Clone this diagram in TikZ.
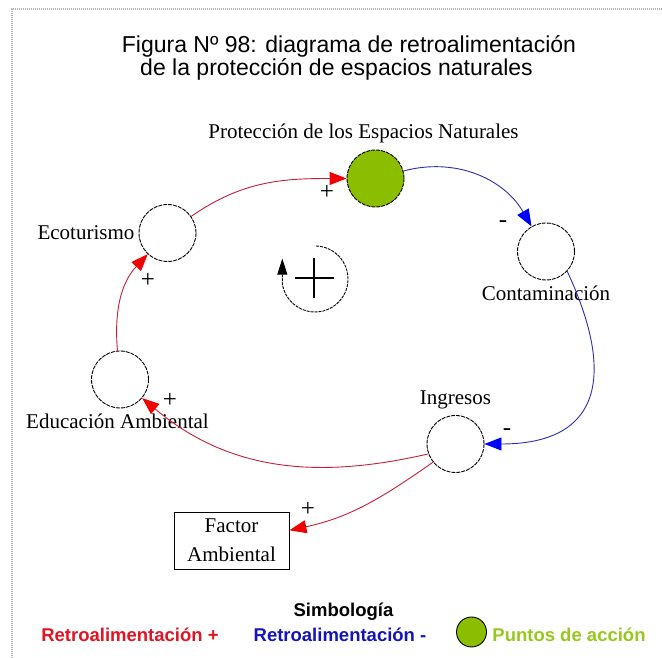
\documentclass[tikz,border=0pt]{standalone}
\usepackage{fontspec}
\setmainfont{Liberation Serif}
\newfontfamily\arialfont{Liberation Sans}
\usepackage{tikz}
\usetikzlibrary{arrows.meta,positioning}

\definecolor{lazo}{RGB}{200,30,55}
\definecolor{punta}{RGB}{240,0,0}
\definecolor{lazoazul}{RGB}{45,45,175}
\definecolor{puntaazul}{RGB}{0,0,250}
\definecolor{verdeacc}{RGB}{140,190,0}
\definecolor{textoverde}{RGB}{150,200,30}
\definecolor{textorojo}{RGB}{225,20,35}
\definecolor{textoazul}{RGB}{20,20,185}

\begin{document}
\begin{tikzpicture}[
  x=1pt, y=1pt,
  nodovar/.style={circle, draw, line width=0.9pt, dash pattern=on 4pt off 1pt,
              minimum size=57pt, inner sep=0pt},
  accion/.style={nodovar, fill=verdeacc},
  caja/.style={rectangle, draw, line width=0.9pt, minimum width=115pt, minimum height=57pt,
              align=center, font=\fontsize{21}{29}\selectfont},
  lbl/.style={inner sep=0pt, font=\fontsize{21}{25}\selectfont},
  sgn/.style={inner sep=0pt, font=\fontsize{25}{28}\selectfont},
  flechapos/.style={draw=lazo, line width=0.9pt,
              -{Triangle[length=17pt,width=13pt,color=punta]}},
  flechaneg/.style={draw=lazoazul, line width=0.9pt,
              -{Triangle[length=17pt,width=13pt,color=puntaazul]}},
  giro/.style={line width=0.9pt, dash pattern=on 3pt off 1pt,
              -{Triangle[length=16pt,width=10pt,color=black]}},
  cruz/.style={line width=2.5pt},
  ley/.style={font=\arialfont\bfseries\fontsize{18.5}{22}\selectfont, inner sep=0pt},
  titulo/.style={font=\arialfont\fontsize{23}{27}\selectfont, inner sep=0pt},
  marco/.style={draw=gray!60, line width=2.5pt, dash pattern=on 1pt off 1pt}
]
\useasboundingbox (0,0) rectangle (662,658);

% marco
\draw[marco] (12,0) -- (12,649) -- (662,649);

% titulo
\node[titulo] (tit1) at (349,612) {Figura Nº 98: diagrama de retroalimentación};
\node[titulo] (tit2) at (336.5,589) {de la protección de espacios naturales};

% variables
\node[accion]  (prot)   at (375.5,479.5) {};
\node[nodovar] (eco)    at (167.5,425)   {};
\node[nodovar] (cont)   at (546,406.5)   {};
\node[nodovar] (edu)    at (120,278.5)   {};
\node[nodovar] (ing)    at (455.5,214)   {};
\node[caja]    (factor) at (231.5,117.5) {Factor\\Ambiental};

\node[lbl, above=6pt of prot, xshift=-12pt] (protlbl) {Protección de los Espacios Naturales};
\node[lbl, left=4pt of eco]                  (ecolbl)  {Ecoturismo};
\node[lbl, below=5pt of cont]                (contlbl) {Contaminación};
\node[lbl, above=6pt of ing]                 (inglbl)  {Ingresos};
\node[lbl, below=5pt of edu, xshift=-2.5pt]  (edulbl)  {Educación Ambiental};

% signos
\node[sgn] (s1) at (327,466) {+};
\node[sgn] (s2) at (148,378) {+};
\node[sgn] (s3) at (503,434) {-};
\node[sgn] (s4) at (507,226) {-};
\node[sgn] (s5) at (170,258) {+};
\node[sgn] (s6) at (308,149) {+};

% conexiones
\draw[flechapos] (eco) to[out=35,in=180] (prot);
\draw[flechaneg] (prot) to[out=15,in=120] (cont);
\draw[flechaneg] (cont.-43) to[out=-65,in=0,looseness=1.55] (ing.east);
\draw[flechapos] (ing.200) to[out=193,in=-40] (edu);
\draw[flechapos] (ing.219) to[out=215,in=12] (factor.10);
\draw[flechapos] (edu) to[out=95,in=227] (eco);

% simbolo del lazo
\coordinate (lazoc) at (315,379);
\draw[cruz] ([shift={(-20,1)}]lazoc) -- ([shift={(19,1)}]lazoc)
            ([shift={(-1,21)}]lazoc) -- ([shift={(-1,-19)}]lazoc);
\draw[giro] ([shift={(88:33)}]lazoc) arc[start angle=88, end angle=-172, radius=33] -- ++(0,25);

% simbologia
\node[ley] (simb) at (343.5,46) {Simbología};
\node[ley, text=textorojo]  (leypos)    at (130,23) {Retroalimentación +};
\node[ley, text=textoazul]  (leyneg)    at (340,23) {Retroalimentación -};
\node[accion, solid, minimum size=30pt] (leyacc) at (471.5,26) {};
\node[ley, text=textoverde] (leyacclbl) at (569,23) {Puntos de acción};

\end{tikzpicture}
\end{document}
